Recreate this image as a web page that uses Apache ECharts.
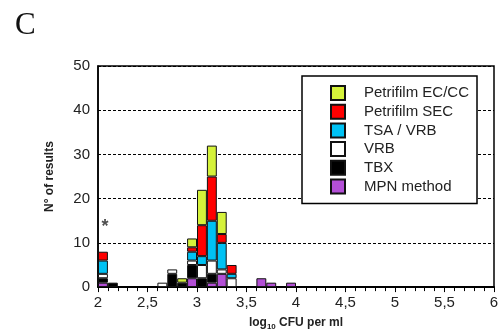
<!DOCTYPE html>
<html>
<head>
<meta charset="utf-8">
<script src="https://cdn.jsdelivr.net/npm/echarts@6/dist/echarts.min.js"></script>
<style>
  html, body { margin: 0; padding: 0; background: #fff; }
  #container { width: 502px; height: 336px; }
</style>
</head>
<body>
<div id="container"></div>
<script>
var dom = document.getElementById("container");
var myChart = echarts.init(dom);

// lower edge of each 0.1 log bin that has results
var binStarts = [2.0, 2.1, 2.6, 2.7, 2.8, 2.9, 3.0, 3.1, 3.2, 3.3, 3.6, 3.7, 3.9];

var mpn    = [1, 0, 0, 0, 0, 2, 0, 1, 3, 0, 2, 1, 1];
var tbx    = [1, 1, 0, 3, 1, 3, 2, 2, 0, 0, 0, 0, 0];
var vrb    = [1, 0, 1, 1, 0, 1, 3, 3, 1, 2, 0, 0, 0];
var tsaVrb = [3, 0, 0, 0, 0, 2, 2, 9, 6, 1, 0, 0, 0];
var petSec = [2, 0, 0, 0, 0, 1, 7, 10, 2, 2, 0, 0, 0];
var petEc  = [0, 0, 0, 0, 1, 2, 8, 7, 5, 0, 0, 0, 0];

var asterisk = [2.07, 13.6];

var font = "Liberation Sans";

// all 0.1 bins from 2.0 to 5.9 for the hidden band axis
var bins = [];
for (var b = 20; b < 60; b++) bins.push((b / 10).toFixed(1));

function fillBins(values) {
  var out = bins.map(function () { return 0; });
  values.forEach(function (v, i) {
    out[bins.indexOf(binStarts[i].toFixed(1))] = v;
  });
  return out.map(function (v) { return v > 0 ? v : "-"; });
}

function barSeries(name, values, color) {
  return {
    name: name,
    type: "bar",
    stack: "all",
    xAxisIndex: 0,
    barCategoryGap: 0,
    data: fillBins(values),
    itemStyle: { color: color, borderColor: "#111", borderWidth: 1 },
    emphasis: { disabled: true },
  };
}

var seriesData = [
  barSeries("MPN method", mpn, "#b34fd6"),
  barSeries("TBX", tbx, "#000000"),
  barSeries("VRB", vrb, "#ffffff"),
  barSeries("TSA / VRB", tsaVrb, "#00c2f4"),
  barSeries("Petrifilm SEC", petSec, "#ff0000"),
  barSeries("Petrifilm EC/CC", petEc, "#d5f23a"),
  {
    type: "scatter",
    xAxisIndex: 1,
    data: [asterisk],
    symbolSize: 1,
    itemStyle: { color: "transparent" },
    silent: true,
    label: {
      show: true,
      position: "inside",
      formatter: "*",
      fontFamily: font,
      fontWeight: "bold",
      fontSize: 18,
      color: "#222",
    },
  },
];

var option = {
  animation: false,
  backgroundColor: "#fff",
  title: {
    text: "C",
    left: 10,
    top: 5,
    textStyle: {
      fontFamily: "Liberation Serif",
      fontWeight: "normal",
      fontSize: 31,
      color: "#111",
    },
  },
  legend: {
    data: ["Petrifilm EC/CC", "Petrifilm SEC", "TSA / VRB", "VRB", "TBX", "MPN method"],
    orient: "vertical",
    left: 302,
    top: 76,
    padding: [9, 8, 9, 28],
    itemWidth: 14,
    itemHeight: 14,
    itemGap: 2.7,
    backgroundColor: "#fff",
    borderColor: "#000",
    borderWidth: 1.5,
    borderRadius: 0,
    icon: "rect",
    textStyle: {
      fontFamily: font,
      fontSize: 15,
      lineHeight: 15,
      color: "#222",
      padding: [0, 0, 0, 14],
    },
  },
  grid: {
    left: 98,
    right: 8,
    top: 66,
    bottom: 48,
    show: true,
    borderColor: "#000",
    borderWidth: 1.5,
    containLabel: false,
  },
  xAxis: [
    {
      type: "category",
      data: bins,
      boundaryGap: true,
      show: false,
    },
    {
      type: "value",
      min: 2,
      max: 6,
      interval: 0.5,
      position: "bottom",
      name: "{a|log}{s|10}{a| CFU per ml}",
      nameLocation: "middle",
      nameGap: 26,
      nameTextStyle: {
        rich: {
          a: { fontFamily: font, fontWeight: "bold", fontSize: 12, color: "#222", lineHeight: 14 },
          s: { fontFamily: font, fontWeight: "bold", fontSize: 8, color: "#222", lineHeight: 8, padding: [8, 0, 0, 0] },
        },
      },
      axisLine: { lineStyle: { color: "#000", width: 2 } },
      axisTick: { show: true, length: 5, inside: false, lineStyle: { color: "#000" } },
      minorTick: { show: true, splitNumber: 5, length: 4, lineStyle: { color: "#000" } },
      splitLine: { show: false },
      axisLabel: {
        fontFamily: font,
        fontSize: 15,
        color: "#222",
        margin: 8,
        showMinLabel: true,
        showMaxLabel: true,
        formatter: function (v) {
          return String(v).replace(".", ",");
        },
      },
    },
  ],
  yAxis: {
    type: "value",
    min: 0,
    max: 50,
    interval: 10,
    name: "N° of results",
    nameLocation: "middle",
    nameGap: 42,
    nameTextStyle: { fontFamily: font, fontWeight: "bold", fontSize: 12, color: "#222" },
    axisLine: { show: true, lineStyle: { color: "#000", width: 1.5 } },
    axisTick: { show: false },
    axisLabel: { fontFamily: font, fontSize: 15, color: "#222", margin: 8 },
    splitLine: { show: true, lineStyle: { color: "#000", width: 1, type: [3, 2] } },
  },
  series: seriesData,
};

myChart.setOption(option);
</script>
</body>
</html>
